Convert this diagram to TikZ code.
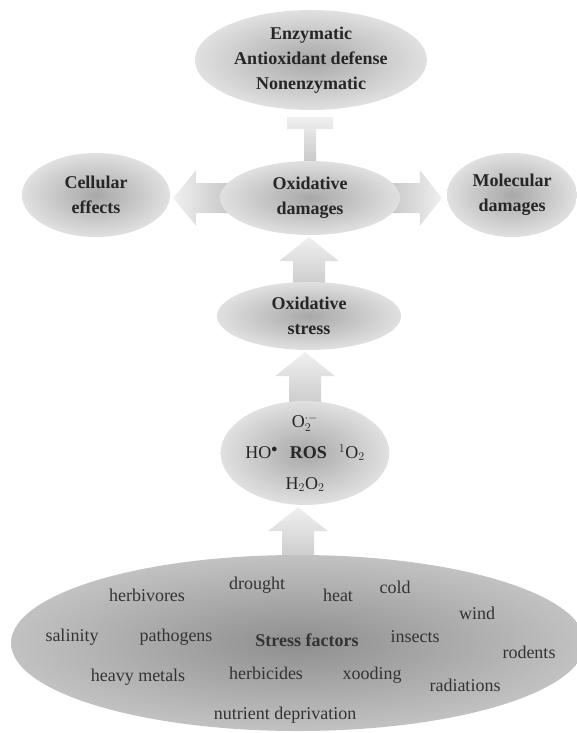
\documentclass[tikz,border=0pt]{standalone}
\usepackage{fontspec}
\setmainfont{Liberation Serif}
\usetikzlibrary{calc,shapes.geometric,backgrounds}

\begin{document}
\begin{tikzpicture}[
    x = 1pt,
    y = -1pt,
    blob/.style = {
      ellipse,
      inner xsep = 0pt,
      inner ysep = -8pt,
      shading = radial,
      inner color = gray!68,
      outer color = gray!24,
      text = black!85,
      align = center,
      font = \fontsize{18}{25}\selectfont\bfseries
    },
    word/.style = {
      text = black!80,
      font = \fontsize{18}{20}\selectfont
    },
    blockfill/.style = {
      shading = axis,
      top color = gray!12,
      bottom color = gray!45
    },
    uparr/.style = {
      blockfill,
      to path = {
        let \p1 = (\tikztostart), \p2 = (\tikztotarget) in
        (\x1-16pt,\y1-12pt) -- (\x1-16pt,\y2-26pt) -- (\x1-30pt,\y2-26pt)
        -- (\x1,\y2-2pt) -- (\x1+30pt,\y2-26pt) -- (\x1+16pt,\y2-26pt)
        -- (\x1+16pt,\y1-12pt) -- cycle
      }
    },
    leftarr/.style = {
      shading = axis,
      left color = gray!12,
      right color = gray!45,
      to path = {
        let \p1 = (\tikztostart), \p2 = (\tikztotarget) in
        (\x1+12pt,\y1+15pt) -- (\x2+26pt,\y1+15pt) -- (\x2+26pt,\y1+28pt)
        -- (\x2+3pt,\y1) -- (\x2+26pt,\y1-28pt) -- (\x2+26pt,\y1-15pt)
        -- (\x1+12pt,\y1-15pt) -- cycle
      }
    },
    rightarr/.style = {
      shading = axis,
      left color = gray!45,
      right color = gray!12,
      to path = {
        let \p1 = (\tikztostart), \p2 = (\tikztotarget) in
        (\x1-12pt,\y1+15pt) -- (\x2-27pt,\y1+15pt) -- (\x2-27pt,\y1+28pt)
        -- (\x2-5pt,\y1) -- (\x2-27pt,\y1-28pt) -- (\x2-27pt,\y1-15pt)
        -- (\x1-12pt,\y1-15pt) -- cycle
      }
    },
    tbar/.style = {
      blockfill,
      to path = {
        let \p1 = (\tikztostart), \p2 = (\tikztotarget) in
        (\x1-6pt,\y1-6pt) -- (\x1-6pt,\y2-19pt) -- (\x1-23pt,\y2-19pt)
        -- (\x1-23pt,\y2-7pt) -- (\x1+23pt,\y2-7pt) -- (\x1+23pt,\y2-19pt)
        -- (\x1+6pt,\y2-19pt) -- (\x1+6pt,\y1-6pt) -- cycle
      }
    }
  ]
  \useasboundingbox (0,0) rectangle (577,733);

  % upper part
  \node[blob, minimum width=232pt, minimum height=100pt] (anti) at (311,60)
    {Enzymatic\\Antioxidant defense\\Nonenzymatic};
  \node[blob, minimum width=180pt, minimum height=74pt] (dam) at (310,198)
    {Oxidative\\damages};
  \node[blob, minimum width=148pt, minimum height=84pt] (cell) at (96,195)
    {Cellular\\effects};
  \node[blob, minimum width=130pt, minimum height=84pt] (mol) at (512,195)
    {Molecular\\damages};
  \node[blob, minimum width=184pt, minimum height=68pt] (stress) at (309,316)
    {Oxidative\\stress};
  \node[blob, minimum width=154pt, minimum height=104pt,
        font=\fontsize{18}{31}\selectfont] (ros) at (305,453)
    {O$_2^{\cdot-}$\\HO$^{\bullet}$\hspace{12pt}\textbf{ROS}\hspace{12pt}$^1$O$_2$\\H$_2$O$_2$};

  % stress factors
  \node[blob, inner color=gray!88, outer color=gray!48,
        minimum width=574pt, minimum height=176pt] (sf) at (298,643) {};

  \node[word] (herbivores) at (147,595) {herbivores};
  \node[word] (drought) at (257,585) {drought};
  \node[word] (heat) at (338,595) {heat};
  \node[word] (cold) at (395,587) {cold};
  \node[word] (wind) at (477,613) {wind};
  \node[word] (salinity) at (72,637) {salinity};
  \node[word] (pathogens) at (176,637) {pathogens};
  \node[word, font=\fontsize{18}{20}\selectfont\bfseries] (sflabel) at (307,640) {Stress factors};
  \node[word] (insects) at (415,637) {insects};
  \node[word] (rodents) at (529,652) {rodents};
  \node[word] (heavymetals) at (138,677) {heavy metals};
  \node[word] (herbicides) at (266,673) {herbicides};
  \node[word] (xooding) at (372,675) {xooding};
  \node[word] (radiations) at (465,685) {radiations};
  \node[word] (nutrient) at (285,715) {nutrient deprivation};

  % block arrows
  \begin{pgfonlayer}{background}
    \path[uparr] (sf.north) to (ros.south);
    \path[uparr] (ros.north) to (stress.south);
    \path[uparr] (stress.north) to (dam.south);
    \path[leftarr] (dam.west) to (cell.east);
    \path[rightarr] (dam.east) to (mol.west);
    \path[tbar] (dam.north) to (anti.south);
  \end{pgfonlayer}

\end{tikzpicture}
\end{document}
